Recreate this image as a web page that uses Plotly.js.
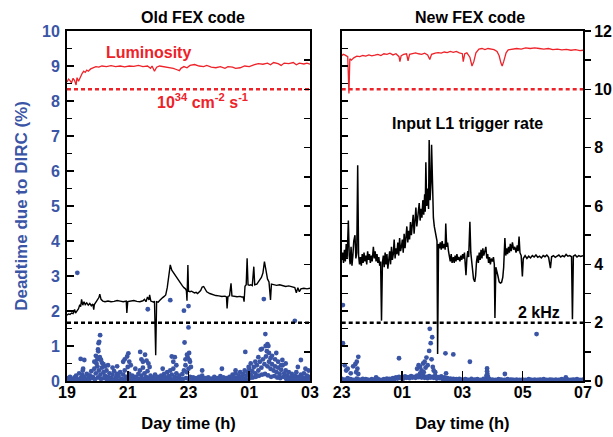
<!DOCTYPE html>
<html>
<head>
<meta charset="utf-8">
<script src="https://cdn.plot.ly/plotly-3.0.1.min.js"></script>
<style>html,body{margin:0;padding:0;background:#fff;}#chart{width:613px;height:437px;}</style>
</head>
<body>
<div id="chart"></div>
<script>
// ---------- DATA ----------
var panelTitles = ['Old FEX code', 'New FEX code'];
var oldTickVals = [19, 21, 23, 25, 27];
var oldTickText = ['19', '21', '23', '01', '03'];
var newTickVals = [23, 25, 27, 29, 31];
var newTickText = ['23', '01', '03', '05', '07'];

// Luminosity (right scale, 10 = 1e34 cm^-2 s^-1)
var lumOldX = [19.00,19.05,19.10,19.15,19.20,19.25,19.30,19.33,19.38,19.45,19.50,19.55,19.60,19.65,19.70,19.78,19.85,19.95,20.05,20.15,20.30,20.45,20.60,20.75,20.90,21.05,21.20,21.35,21.50,21.65,21.75,21.80,21.88,21.95,22.05,22.20,22.35,22.50,22.60,22.70,22.75,22.85,22.95,23.05,23.20,23.35,23.50,23.60,23.75,23.90,24.05,24.20,24.30,24.45,24.55,24.70,24.85,25.00,25.15,25.30,25.45,25.60,25.70,25.80,25.95,26.05,26.15,26.30,26.45,26.55,26.65,26.80,26.90,27.00];
var lumOldY = [10.25,10.35,10.30,10.22,10.38,10.30,10.15,10.40,10.28,10.45,10.55,10.62,10.58,10.66,10.62,10.70,10.74,10.78,10.76,10.80,10.78,10.81,10.78,10.80,10.77,10.80,10.79,10.82,10.78,10.80,10.72,10.80,10.62,10.76,10.80,10.78,10.76,10.72,10.68,10.64,10.72,10.78,10.74,10.82,10.85,10.80,10.78,10.82,10.76,10.74,10.78,10.72,10.78,10.76,10.72,10.74,10.80,10.78,10.84,10.88,10.86,10.90,10.84,10.92,10.88,10.82,10.90,10.88,10.92,10.84,10.90,10.87,10.90,10.86];

var lumNewX = [23.00,23.05,23.10,23.15,23.20,23.24,23.27,23.32,23.40,23.50,23.60,23.70,23.80,23.90,24.00,24.10,24.20,24.30,24.40,24.50,24.60,24.70,24.80,24.90,24.93,24.97,25.05,25.15,25.20,25.25,25.35,25.45,25.55,25.65,25.75,25.85,25.92,25.98,26.10,26.20,26.30,26.40,26.50,26.60,26.70,26.80,26.90,27.00,27.03,27.08,27.15,27.25,27.32,27.38,27.45,27.55,27.65,27.75,27.85,27.95,28.05,28.15,28.22,28.28,28.32,28.37,28.45,28.52,28.65,28.80,28.95,29.10,29.25,29.40,29.55,29.70,29.85,30.00,30.15,30.30,30.45,30.60,30.75,30.90,31.00];
var lumNewY = [11.15,11.20,11.18,11.16,11.12,9.86,11.05,11.00,11.08,11.14,11.12,11.16,11.14,11.18,11.15,11.17,11.20,11.16,11.22,11.20,11.24,11.18,11.22,11.12,10.95,11.15,11.20,11.22,10.98,11.20,11.22,11.25,11.22,11.20,11.24,11.18,11.02,11.20,11.24,11.26,11.24,11.28,11.26,11.30,11.27,11.30,11.25,11.22,10.95,11.22,11.25,11.10,10.80,10.95,11.25,11.38,11.40,11.36,11.40,11.38,11.36,11.30,11.15,10.90,10.80,10.95,11.25,11.35,11.37,11.40,11.38,11.42,11.40,11.42,11.40,11.38,11.40,11.36,11.38,11.35,11.37,11.34,11.36,11.33,11.34];

// Input L1 trigger rate (kHz, right scale)
var trigOldX = [19.00,19.05,19.10,19.15,19.20,19.25,19.28,19.32,19.38,19.42,19.45,19.48,19.52,19.56,19.60,19.65,19.70,19.75,19.80,19.85,19.88,19.90,19.95,20.00,20.05,20.08,20.12,20.18,20.25,20.35,20.45,20.55,20.65,20.75,20.85,20.95,20.97,21.00,21.10,21.20,21.30,21.40,21.50,21.55,21.60,21.65,21.70,21.72,21.76,21.80,21.85,21.88,21.92,21.95,22.00,22.05,22.10,22.15,22.20,22.25,22.30,22.35,22.40,22.45,22.50,22.55,22.60,22.65,22.70,22.75,22.80,22.85,22.90,22.93,22.95,22.98,23.00,23.05,23.10,23.15,23.20,23.25,23.30,23.40,23.45,23.50,23.55,23.60,23.70,23.80,23.90,24.00,24.10,24.20,24.25,24.27,24.30,24.35,24.40,24.43,24.50,24.60,24.70,24.75,24.80,24.83,24.86,24.90,24.93,24.96,25.00,25.05,25.10,25.15,25.18,25.25,25.30,25.35,25.40,25.45,25.50,25.55,25.60,25.65,25.70,25.73,25.80,25.90,26.00,26.10,26.20,26.30,26.40,26.50,26.55,26.60,26.65,26.70,26.80,26.90,27.00];
var trigOldY = [2.26,2.30,2.28,2.33,2.31,2.45,2.33,2.40,2.48,2.62,2.55,2.80,2.60,2.72,2.62,2.68,2.60,2.66,2.58,2.64,2.45,2.62,2.70,2.78,2.86,2.98,2.80,2.74,2.72,2.74,2.72,2.73,2.76,2.74,2.72,2.74,2.33,2.72,2.74,2.76,2.73,2.72,2.75,2.80,2.72,2.88,2.78,2.95,2.74,2.72,2.70,2.74,0.88,2.72,2.70,2.76,2.82,2.86,2.90,2.95,3.20,3.60,3.98,3.80,3.72,3.62,3.55,3.46,3.38,3.30,3.26,3.20,3.16,3.10,2.75,3.98,3.08,3.06,3.08,3.05,3.02,3.04,3.00,3.10,3.22,3.24,3.14,3.06,3.00,2.96,2.93,2.92,2.90,2.91,2.88,2.49,2.90,2.92,3.35,2.92,2.90,2.89,2.90,2.88,2.89,2.72,3.25,3.30,4.21,3.30,3.28,3.30,3.27,3.92,3.30,3.32,3.40,3.46,3.55,3.70,4.09,3.80,3.50,3.40,2.78,3.32,3.30,3.28,3.30,3.26,3.24,3.26,3.22,3.20,3.02,3.20,3.06,3.16,3.18,3.16,3.18];

var trigNewX = [23.00,23.03,23.06,23.09,23.12,23.15,23.18,23.22,23.25,23.28,23.31,23.34,23.37,23.40,23.44,23.47,23.50,23.53,23.56,23.59,23.62,23.65,23.68,23.71,23.74,23.77,23.80,23.83,23.86,23.89,23.92,23.95,23.98,24.01,24.05,24.08,24.11,24.14,24.17,24.20,24.23,24.26,24.29,24.32,24.35,24.38,24.41,24.44,24.47,24.50,24.53,24.56,24.59,24.62,24.65,24.68,24.71,24.74,24.77,24.80,24.83,24.86,24.89,24.92,24.95,24.98,25.01,25.04,25.07,25.10,25.13,25.16,25.19,25.22,25.25,25.28,25.31,25.34,25.37,25.40,25.43,25.46,25.49,25.52,25.55,25.57,25.60,25.63,25.66,25.69,25.72,25.75,25.77,25.79,25.82,25.85,25.88,25.90,25.93,25.96,25.98,26.01,26.04,26.07,26.10,26.13,26.16,26.18,26.21,26.24,26.27,26.30,26.33,26.36,26.40,26.43,26.45,26.48,26.51,26.54,26.57,26.60,26.63,26.66,26.70,26.73,26.76,26.79,26.82,26.85,26.88,26.92,26.95,26.98,27.01,27.04,27.07,27.10,27.12,27.15,27.18,27.21,27.25,27.28,27.31,27.34,27.37,27.41,27.44,27.47,27.50,27.53,27.56,27.59,27.62,27.65,27.68,27.71,27.75,27.78,27.81,27.84,27.87,27.90,27.93,27.96,28.00,28.03,28.06,28.08,28.11,28.14,28.18,28.22,28.26,28.30,28.34,28.37,28.41,28.44,28.47,28.50,28.53,28.56,28.59,28.62,28.66,28.70,28.74,28.78,28.82,28.85,28.88,28.91,28.95,28.99,29.02,29.08,29.14,29.20,29.26,29.32,29.38,29.44,29.50,29.56,29.62,29.68,29.74,29.80,29.86,29.92,29.96,30.02,30.08,30.14,30.20,30.26,30.32,30.38,30.44,30.50,30.56,30.62,30.65,30.68,30.74,30.80,30.86,30.92,31.00];
var trigNewY = [4.15,4.40,4.05,4.50,4.10,4.70,4.20,5.50,4.30,4.00,4.60,3.95,4.30,4.80,5.00,4.20,4.40,7.40,4.30,4.00,4.25,3.95,4.35,4.05,4.40,4.10,4.30,4.00,4.45,4.15,4.35,4.05,4.30,4.10,4.60,4.20,4.45,4.10,4.35,4.05,4.25,3.95,4.10,2.07,4.05,4.30,3.90,4.40,4.00,4.35,3.85,4.25,4.45,4.00,4.60,4.15,4.35,4.85,4.20,4.55,4.35,4.75,4.30,4.90,4.45,4.60,4.85,4.40,5.05,4.55,4.95,5.30,4.75,5.15,4.85,5.45,5.00,5.25,5.70,5.05,5.40,5.95,5.30,5.60,6.00,6.10,5.50,5.90,5.60,6.20,5.70,6.40,5.80,7.50,6.00,6.60,5.90,8.26,6.20,6.80,8.10,6.00,5.60,5.30,5.10,4.90,4.80,0.93,4.70,4.55,4.75,4.50,4.80,4.55,4.70,4.50,5.40,4.60,4.75,4.45,4.30,4.10,4.35,4.05,4.25,4.05,4.30,4.10,4.35,4.15,4.25,4.10,4.30,4.15,4.35,4.20,4.40,4.00,3.63,4.20,4.45,4.25,5.46,4.40,4.10,3.80,3.50,3.40,3.60,4.10,4.30,4.05,4.40,4.15,4.50,4.20,4.55,4.30,4.45,4.60,4.20,4.35,4.05,4.25,4.00,4.20,4.10,4.25,4.00,2.16,3.90,3.80,3.60,3.40,3.36,3.38,3.55,3.90,4.90,4.30,4.55,4.35,4.60,4.40,4.70,4.45,4.75,4.50,4.60,4.40,4.65,4.45,4.95,4.40,4.30,3.58,4.20,4.30,4.20,4.28,4.22,4.30,4.25,4.32,4.24,4.28,4.22,4.30,4.26,4.32,4.24,3.87,4.26,4.30,4.24,4.28,4.32,4.25,4.30,4.26,4.34,4.28,4.30,4.26,2.12,4.28,4.32,4.25,4.30,4.27,4.30];

// Reference levels
var lumRef = 10;      // 10^34 cm^-2 s^-1 on right scale
var trigRef = 2;      // 2 kHz

// Deadtime due to DIRC (%) — left scale
var deadOldX = [].concat(
 [19.00,19.05,19.10,19.15,19.20,19.25,19.30,19.35,19.40,19.45,19.50,19.55,19.60,19.65,19.70,19.75,19.80,19.85,19.90,19.95],
 [20.00,20.05,20.10,20.15,20.20,20.25,20.30,20.35,20.40,20.45,20.50,20.55,20.60,20.65,20.70,20.75,20.80,20.85,20.90,20.95],
 [21.00,21.05,21.10,21.15,21.20,21.25,21.30,21.35,21.40,21.45,21.50,21.55,21.60,21.65,21.70,21.75,21.80,21.85,21.90,21.95],
 [22.00,22.05,22.10,22.15,22.20,22.25,22.30,22.35,22.40,22.45,22.50,22.55,22.60,22.65,22.70,22.75,22.80,22.85,22.90,22.95],
 [23.00,23.05,23.10,23.15,23.20,23.25,23.30,23.35,23.40,23.45,23.50,23.55,23.60,23.65,23.70,23.75,23.80,23.85,23.90,23.95],
 [24.00,24.05,24.10,24.15,24.20,24.25,24.30,24.35,24.40,24.45,24.50,24.55,24.60,24.65,24.70,24.75,24.80,24.85,24.90,24.95],
 [25.00,25.05,25.10,25.15,25.20,25.25,25.30,25.35,25.40,25.45,25.50,25.55,25.60,25.65,25.70,25.75,25.80,25.85,25.90,25.95],
 [26.00,26.05,26.10,26.15,26.20,26.25,26.30,26.35,26.40,26.45,26.50,26.55,26.60,26.65,26.70,26.75,26.80,26.85,26.90,26.95,27.00],
 [19.02,19.12,19.22,19.32,19.42,19.52,19.62,19.72,19.82,19.92,20.02,20.12,20.22,20.32,20.42,20.52,20.62,20.72,20.82,20.92],
 [21.02,21.12,21.22,21.32,21.42,21.52,21.62,21.72,21.82,21.92,22.02,22.12,22.22,22.32,22.42,22.52,22.62,22.72,22.82,22.92],
 [23.02,23.12,23.22,23.32,23.42,23.52,23.62,23.72,23.82,23.92,24.02,24.12,24.22,24.32,24.42,24.52,24.62,24.72,24.82,24.92],
 [25.02,25.12,25.22,25.32,25.42,25.52,25.62,25.72,25.82,25.92,26.02,26.12,26.22,26.32,26.42,26.52,26.62,26.72,26.82,26.92],
 [19.34,19.57,19.45,19.53,19.52,19.90,19.95,20.00,20.02,20.04,20.06,20.09,20.03,20.08,20.12,20.15,20.20,20.25,19.97,20.35,20.50,20.65,20.85,20.90,20.98,21.02,21.05,21.10,21.25,21.41,21.45,21.50,21.57,21.62,21.68,21.66,21.72,22.15,22.40,22.45,22.50,22.55,22.60,22.85,22.87,22.90,22.95,22.97,23.00,23.00,23.02,23.03,23.05,23.08,23.45,24.10,24.55,24.87,24.98,25.05,25.20,25.30,25.38,25.42,25.48,25.53,25.54,25.60,25.63,25.58,25.65,25.70,25.75,25.85,25.89,25.95,26.05,26.09,26.20,26.50,26.70,26.60,26.85,26.95]
);
var deadOldY = [].concat(
 [0.08,0.05,0.12,0.03,0.06,0.10,0.15,0.04,0.22,0.08,0.18,0.12,0.05,0.20,0.10,0.16,0.28,0.12,0.35,0.22],
 [0.42,0.30,0.18,0.38,0.25,0.15,0.30,0.12,0.22,0.08,0.18,0.28,0.10,0.20,0.14,0.25,0.06,0.18,0.30,0.12],
 [0.40,0.20,0.10,0.15,0.05,0.12,0.08,0.20,0.30,0.15,0.38,0.22,0.12,0.28,0.08,0.15,0.05,0.10,0.18,0.06],
 [0.12,0.04,0.15,0.08,0.20,0.10,0.25,0.14,0.30,0.18,0.35,0.12,0.22,0.08,0.15,0.05,0.20,0.30,0.45,0.25],
 [0.35,0.12,0.06,0.10,0.04,0.08,0.03,0.12,0.06,0.15,0.05,0.08,0.03,0.10,0.05,0.07,0.03,0.12,0.04,0.08],
 [0.06,0.14,0.05,0.10,0.03,0.08,0.05,0.12,0.07,0.18,0.10,0.22,0.08,0.15,0.25,0.12,0.20,0.30,0.15,0.25],
 [0.35,0.18,0.28,0.40,0.22,0.45,0.30,0.55,0.38,0.62,0.48,0.70,0.42,0.55,0.35,0.48,0.30,0.42,0.25,0.38],
 [0.20,0.32,0.45,0.22,0.30,0.15,0.25,0.10,0.20,0.08,0.15,0.25,0.12,0.05,0.18,0.10,0.22,0.08,0.15,0.05,0.12],
 [0.02,0.04,0.02,0.06,0.03,0.05,0.02,0.04,0.08,0.05,0.10,0.06,0.08,0.04,0.06,0.03,0.05,0.02,0.04,0.06],
 [0.08,0.03,0.02,0.04,0.06,0.05,0.03,0.02,0.04,0.02,0.03,0.02,0.05,0.03,0.06,0.04,0.03,0.02,0.06,0.08],
 [0.05,0.02,0.03,0.02,0.03,0.02,0.02,0.03,0.02,0.02,0.03,0.02,0.02,0.03,0.02,0.04,0.03,0.05,0.06,0.04],
 [0.08,0.10,0.12,0.15,0.18,0.20,0.16,0.12,0.14,0.10,0.08,0.12,0.06,0.05,0.04,0.06,0.03,0.05,0.03,0.04],
 [3.09,0.60,0.63,0.35,0.30,0.55,0.72,0.62,0.90,1.08,1.12,1.31,0.85,0.68,0.60,0.52,0.48,0.42,0.50,0.45,0.38,0.42,0.55,0.62,0.70,0.79,0.55,0.45,0.35,0.83,0.62,0.55,0.75,0.58,0.50,2.05,0.40,0.35,2.31,0.70,0.55,0.68,0.45,2.01,1.10,0.62,0.75,0.68,2.14,1.53,0.80,0.60,0.55,0.40,0.30,0.35,0.30,0.83,0.40,0.50,0.55,0.68,0.90,0.92,2.34,1.34,1.00,1.05,1.00,0.85,0.80,0.65,0.72,0.62,0.80,0.55,0.45,0.60,0.50,1.72,0.60,0.40,0.35,0.30]
);

var deadNewX = [].concat(
 [23.0,23.1,23.2,23.3,23.4,23.5,23.6,23.7,23.8,23.9,24.0,24.1,24.2,24.3,24.4,24.5,24.6,24.7,24.8,24.9],
 [25.0,25.1,25.2,25.3,25.4,25.5,25.6,25.7,25.8,25.9,26.0,26.1,26.2,26.3,26.4,26.5,26.6,26.7,26.8,26.9],
 [27.0,27.1,27.2,27.3,27.4,27.5,27.6,27.7,27.8,27.9,28.0,28.1,28.2,28.3,28.4,28.5,28.6,28.7,28.8,28.9],
 [29.0,29.1,29.2,29.3,29.4,29.5,29.6,29.7,29.8,29.9,30.0,30.1,30.2,30.3,30.4,30.5,30.6,30.7,30.8,30.9,31.0],
 [23.05,23.15,23.25,23.35,23.45,23.55,23.65,23.75,23.85,23.95,24.05,24.15,24.25,24.35,24.45,24.55,24.65,24.75,24.85,24.95],
 [25.05,25.15,25.25,25.35,25.45,25.55,25.65,25.75,25.85,25.95,26.05,26.15,26.25,26.35,26.45,26.55,26.65,26.75,26.85,26.95],
 [27.05,27.15,27.25,27.35,27.45,27.55,27.65,27.75,27.85,27.95,28.05,28.15,28.25,28.35,28.45,28.55,28.65,28.75,28.85,28.95],
 [29.05,29.15,29.25,29.35,29.45,29.55,29.65,29.75,29.85,29.95,30.05,30.15,30.25,30.35,30.45,30.55,30.65,30.75,30.85,30.95],
 [23.04,23.04,23.10,23.15,23.20,23.38,23.45,23.50,23.55,23.52,23.48,23.55,23.30,24.14,24.90,25.50,25.55,25.60,25.65,25.70,25.72,25.75,25.78,25.81,25.85,25.90,25.92,25.95,25.98,26.00,26.02,26.05,25.60,25.68,26.10,26.44,26.46,26.70,27.25,27.82,27.82,27.83,27.80,27.85,28.41,29.46,30.43]
);
var deadNewY = [].concat(
 [0.06,0.04,0.08,0.05,0.03,0.07,0.04,0.06,0.05,0.03,0.05,0.04,0.06,0.03,0.05,0.07,0.06,0.08,0.10,0.12],
 [0.10,0.13,0.11,0.14,0.12,0.15,0.13,0.16,0.12,0.14,0.12,0.15,0.11,0.13,0.10,0.08,0.07,0.06,0.05,0.06],
 [0.04,0.05,0.03,0.06,0.04,0.05,0.03,0.06,0.08,0.05,0.04,0.03,0.05,0.04,0.03,0.05,0.04,0.03,0.04,0.03],
 [0.04,0.03,0.05,0.03,0.04,0.03,0.04,0.05,0.03,0.04,0.03,0.04,0.03,0.05,0.03,0.04,0.03,0.04,0.05,0.03,0.04],
 [0.02,0.03,0.02,0.01,0.02,0.03,0.02,0.02,0.03,0.02,0.02,0.03,0.02,0.02,0.03,0.04,0.05,0.06,0.07,0.08],
 [0.07,0.09,0.08,0.10,0.09,0.11,0.10,0.09,0.08,0.10,0.09,0.07,0.08,0.06,0.05,0.04,0.03,0.03,0.02,0.03],
 [0.02,0.03,0.02,0.02,0.03,0.02,0.02,0.03,0.04,0.02,0.02,0.02,0.03,0.02,0.02,0.02,0.03,0.02,0.02,0.02],
 [0.02,0.02,0.03,0.02,0.02,0.03,0.02,0.02,0.02,0.03,0.02,0.02,0.03,0.02,0.02,0.02,0.03,0.02,0.02,0.02],
 [2.17,1.08,0.45,0.30,0.35,0.42,0.48,0.55,0.69,0.35,0.25,0.20,0.22,0.10,0.65,0.35,0.45,0.40,0.30,0.50,0.25,0.55,0.38,0.67,0.45,0.86,1.49,1.08,0.62,1.25,0.40,0.30,0.22,0.18,0.25,0.79,0.22,0.76,0.55,0.36,0.28,0.20,0.15,0.12,0.20,1.34,0.10]
);

// ---------- STYLE ----------
var W = 613, H = 437;
var RED = '#ee2229', BLUE = '#3a55a5', BLACK = '#000000';
var FONT = 'Liberation Sans, Arial, Helvetica, sans-serif';
function px(x){ return x / W; }
function py(y){ return 1 - y / H; }
var L0 = 67, L1 = 310, R0 = 341.7, R1 = 583, TOP = 31, BOT = 381;
var yDom = [py(BOT), py(TOP)];

var dotStyle = {color: BLUE, size: 4.8};
var traces = [
  {x: deadOldX, y: deadOldY, xaxis:'x', yaxis:'y', mode:'markers', marker: dotStyle, hoverinfo:'skip'},
  {x: [oldTickVals[0], oldTickVals[oldTickVals.length-1]], y: [lumRef, lumRef], xaxis:'x', yaxis:'y3', mode:'lines', line:{color:RED, width:2.5, dash:'4px,3px'}},
  {x: [oldTickVals[0], oldTickVals[oldTickVals.length-1]], y: [trigRef, trigRef], xaxis:'x', yaxis:'y3', mode:'lines', line:{color:BLACK, width:2.5, dash:'4px,3px'}},
  {x: lumOldX, y: lumOldY, xaxis:'x', yaxis:'y3', mode:'lines', line:{color:RED, width:1.3}},
  {x: trigOldX, y: trigOldY, xaxis:'x', yaxis:'y3', mode:'lines', line:{color:BLACK, width:1.4}},

  {x: [newTickVals[0], newTickVals[newTickVals.length-1]], y: [lumRef, lumRef], xaxis:'x2', yaxis:'y2', mode:'lines', line:{color:RED, width:2.5, dash:'4px,3px'}},
  {x: [newTickVals[0], newTickVals[newTickVals.length-1]], y: [trigRef, trigRef], xaxis:'x2', yaxis:'y2', mode:'lines', line:{color:BLACK, width:2.5, dash:'4px,3px'}},
  {x: lumNewX, y: lumNewY, xaxis:'x2', yaxis:'y2', mode:'lines', line:{color:RED, width:1.3}},
  {x: trigNewX, y: trigNewY, xaxis:'x2', yaxis:'y2', mode:'lines', line:{color:BLACK, width:1.5}},
  {x: deadNewX, y: deadNewY, xaxis:'x2', yaxis:'y4', mode:'markers', marker: dotStyle, hoverinfo:'skip'}
];

var tickFont = {family: FONT, size: 16, weight: 'bold', color: BLACK};
var xTitleFont = {family:FONT, size:16.5, weight:'bold', color:BLACK};
var baseX = {showline:true, linewidth:2, linecolor:BLACK, mirror:true, showgrid:false, zeroline:false,
  ticks:'inside', ticklen:10, tickwidth:1.6, tickcolor:BLACK, tickfont: tickFont, automargin:false,
  ticklabelstandoff:-4};
function ext(a,b){ var o={}; for (var k in a) o[k]=a[k]; for (var k2 in b) o[k2]=b[k2]; return o; }

var layout = {
  width: W, height: H, margin:{l:0, r:0, t:0, b:0}, showlegend:false,
  paper_bgcolor:'#ffffff', plot_bgcolor:'rgba(0,0,0,0)',
  font:{family: FONT, size: 16, color: BLACK},
  xaxis: ext(baseX, {domain:[px(L0), px(L1)], range:[19, 27], anchor:'y', tickvals: oldTickVals, ticktext: oldTickText,
    title:{text:'Day time (h)', font: xTitleFont, standoff:17}}),
  xaxis2: ext(baseX, {domain:[px(R0), px(R1)], range:[23, 31], anchor:'y2', tickvals: newTickVals, ticktext: newTickText,
    title:{text:'Day time (h)', font: xTitleFont, standoff:17}}),
  yaxis: {domain: yDom, range:[0, 10], anchor:'x', side:'left', dtick:1, tick0:0,
    ticks:'inside', ticklen:7, tickwidth:1.6, tickcolor:BLACK,
    minor:{dtick:0.5, ticks:'inside', ticklen:5, tickwidth:1.4, tickcolor:BLACK},
    showline:true, linewidth:2, linecolor:BLACK, showgrid:false, zeroline:false, automargin:false,
    ticklabelstandoff:2,
    tickfont:{family:FONT, size:16, weight:'bold', color:BLUE},
    title:{text:'Deadtime due to DIRC (%)', font:{family:FONT, size:17, weight:'bold', color:BLUE}, standoff:10}},
  yaxis3: {overlaying:'y', anchor:'x', side:'right', range:[0, 12], dtick:1, tick0:0,
    ticks:'inside', ticklen:6, tickwidth:1.5, tickcolor:BLACK, showticklabels:false,
    showline:true, linewidth:2, linecolor:BLACK, showgrid:false, zeroline:false, automargin:false},
  yaxis2: {domain: yDom, range:[0, 12], anchor:'x2', side:'right', dtick:2, tick0:0,
    ticks:'outside', ticklen:6, tickwidth:1.6, tickcolor:BLACK,
    minor:{dtick:1, ticks:'outside', ticklen:6, tickwidth:1.4, tickcolor:BLACK},
    showline:true, linewidth:2, linecolor:BLACK, showgrid:false, zeroline:false, automargin:false,
    tickfont: tickFont},
  yaxis4: {overlaying:'y2', anchor:'x2', side:'left', range:[0, 10], dtick:0.5, tick0:0,
    ticks:'inside', ticklen:6, tickwidth:1.5, tickcolor:BLACK, showticklabels:false,
    showline:true, linewidth:2, linecolor:BLACK, showgrid:false, zeroline:false, automargin:false},
  annotations: [
    {text: panelTitles[0], xref:'paper', yref:'paper', x: px(193), y: py(18), showarrow:false, xanchor:'center', yanchor:'middle',
      font:{family:FONT, size:16, weight:'bold', color:BLACK}},
    {text: panelTitles[1], xref:'paper', yref:'paper', x: px(470), y: py(18), showarrow:false, xanchor:'center', yanchor:'middle',
      font:{family:FONT, size:16, weight:'bold', color:BLACK}},
    {text: 'Luminosity', xref:'paper', yref:'paper', x: px(148), y: py(53), showarrow:false, xanchor:'center', yanchor:'middle',
      font:{family:FONT, size:16, weight:'bold', color:RED}},
    {text: '10<sup>34</sup> cm<sup>-2</sup> s<sup>-1</sup>', xref:'paper', yref:'paper', x: px(202), y: py(101), showarrow:false, xanchor:'center', yanchor:'middle',
      font:{family:FONT, size:16, weight:'bold', color:RED}},
    {text: 'Input L1 trigger rate', xref:'paper', yref:'paper', x: px(467), y: py(124), showarrow:false, xanchor:'center', yanchor:'middle',
      font:{family:FONT, size:16, weight:'bold', color:BLACK}},
    {text: '2 kHz', xref:'paper', yref:'paper', x: px(539), y: py(312), showarrow:false, xanchor:'center', yanchor:'middle',
      font:{family:FONT, size:16, weight:'bold', color:BLACK}}
  ]
};

Plotly.newPlot('chart', traces, layout, {displayModeBar:false, staticPlot:true});
</script>
</body>
</html>
